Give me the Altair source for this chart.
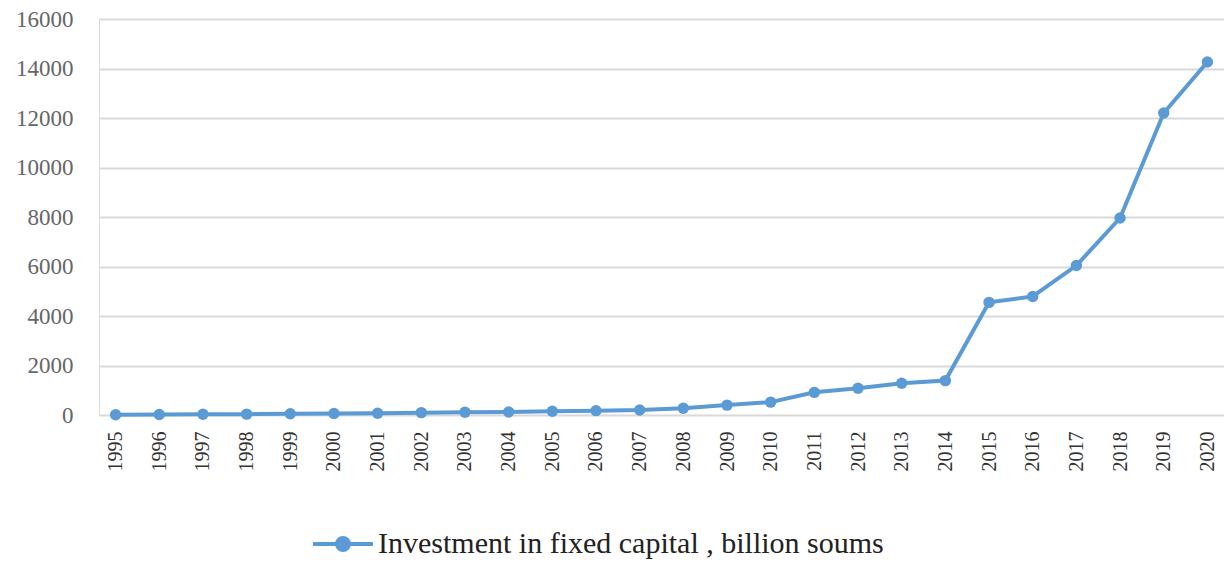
import altair as alt
import pandas as pd

years = [str(y) for y in range(1995, 2021)]
values = [10, 20, 30, 35, 50, 60, 70, 95, 110, 120, 150, 175, 200, 270, 400, 520,
          915, 1080, 1280, 1390, 4550, 4790, 6040, 7960, 12200, 14260]
series_name = "Investment in fixed capital , billion soums"

df = pd.DataFrame({"year": years, "value": values, "series": series_name})

FONT = "'Times New Roman', 'Liberation Serif', serif"
blue = "#5B9BD5"
color = alt.Color(
    "series:N",
    scale=alt.Scale(range=[blue]),
    legend=alt.Legend(
        title=None,
        orient="none",
        legendX=212,
        legendY=493,
        symbolType="M-1,0L1,0M0.2,0A0.2,0.2,0,1,1,-0.2,0A0.2,0.2,0,1,1,0.2,0Z",
        symbolSize=3600,
        symbolStrokeWidth=4,
        symbolFillColor=blue,
        symbolStrokeColor=blue,
        symbolOpacity=1,
        labelFont=FONT,
        labelFontSize=30,
        labelColor="#222222",
        labelOffset=3,
        labelLimit=900,
    ),
)

x = alt.X(
    "year:O",
    title=None,
    scale=alt.Scale(type="point", padding=0.38),
    axis=alt.Axis(
        labelAngle=-90,
        labelAlign="right",
        labelBaseline="middle",
        labelFont=FONT,
        labelFontSize=20,
        labelColor="#333333",
        labelPadding=16,
        ticks=False,
        domain=False,
        grid=False,
    ),
)
y = alt.Y(
    "value:Q",
    title=None,
    scale=alt.Scale(domain=[0, 16000]),
    axis=alt.Axis(
        values=list(range(0, 16001, 2000)),
        format="d",
        labelFont=FONT,
        labelFontSize=23,
        labelColor="#666666",
        labelPadding=26,
        ticks=False,
        domain=False,
        gridColor="#d9d9d9",
        gridWidth=2,
    ),
)

line = alt.Chart(df).mark_line(strokeWidth=4).encode(x=x, y=y, color=color)
pts = alt.Chart(df).mark_point(filled=True, size=130, opacity=1, shape="circle", color=blue).encode(x=x, y=y)

chart = (
    alt.layer(line, pts)
    .properties(
        width=1125,
        height=396,
        autosize=alt.AutoSizeParams(type="none"),
        padding={"left": 91, "top": 11, "right": 0, "bottom": 145},
    )
    .configure_view(stroke=None)
    .configure(background="white")
)

chart.save("out.html", embed_options={"renderer": "svg", "actions": False})
